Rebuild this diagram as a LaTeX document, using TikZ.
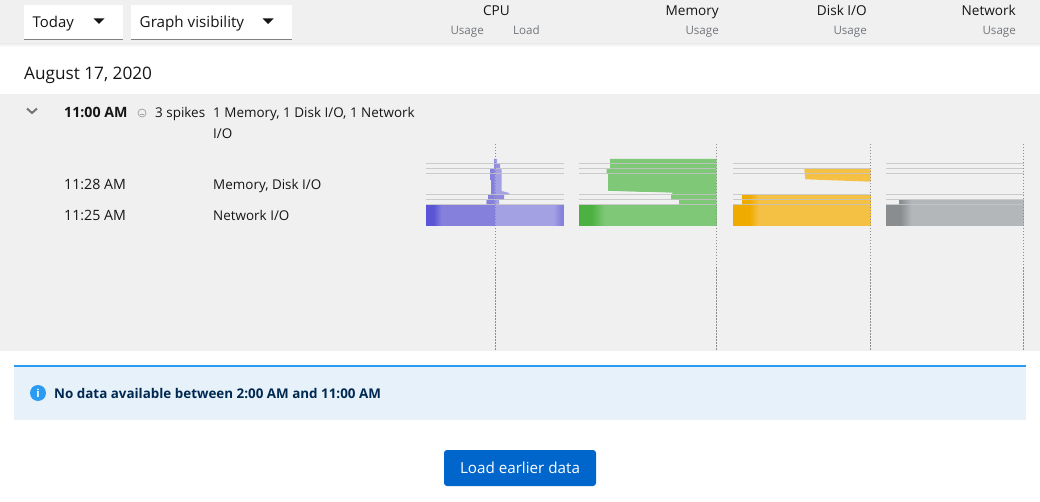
\documentclass[tikz,border=0pt]{standalone}
\usepackage{fontspec}
\setmainfont{Open Sans}
\definecolor{band}{HTML}{F0F0F0}
\definecolor{ink}{HTML}{151515}
\definecolor{dim}{HTML}{72767B}
\definecolor{gridc}{HTML}{C4C4C4}
\definecolor{vio}{HTML}{5A55D6}
\definecolor{vioM}{HTML}{8680DD}
\definecolor{vioL}{HTML}{A4A0E4}
\definecolor{grn}{HTML}{4CB140}
\definecolor{grnL}{HTML}{7EC877}
\definecolor{yel}{HTML}{F0AB00}
\definecolor{yelL}{HTML}{F5C144}
\definecolor{gry}{HTML}{8A8D90}
\definecolor{gryL}{HTML}{B4B7BA}
\definecolor{btn}{HTML}{0066CC}
\definecolor{alertbg}{HTML}{E7F1FA}
\definecolor{alertln}{HTML}{2B9AF3}
\definecolor{alerttx}{HTML}{002952}
\tikzset{x=1pt,y=-1pt,
 txt/.style={anchor=base west,inner sep=0,text=ink,font=\fontsize{13.45}{16}\selectfont},
 timec/.style={txt,font=\fontsize{14.2}{16}\selectfont},
 bold/.style={txt,font=\fontsize{14.2}{16}\selectfont\bfseries},
 head/.style={anchor=base east,inner sep=0,text=ink,font=\fontsize{13.6}{16}\selectfont},
 sub/.style={anchor=base east,inner sep=0,text=dim,font=\fontsize{11.6}{13}\selectfont},
 gridl/.style={gridc,line width=1pt,opacity=.85},
 marker/.style={draw=black!45,line width=1pt,dash pattern=on 1.5pt off 1.5pt},
 ddbox/.style={fill=white},
 ddline/.style={draw=black!50,line width=1pt},
 caret/.style={fill=ink}}
% left colour, right colour, x0, x1, y0, y1: the gradient is drawn as 1px slices from x0 to x1
\newcommand{\fadebar}[6]{%
  \pgfmathtruncatemacro{\fadeN}{#4-#3}%
  \foreach \fadei in {1,...,\fadeN}{%
    \pgfmathtruncatemacro{\fadep}{100-100*(\fadei-0.5)/\fadeN}%
    \fill[#1!\fadep!#2] ({#3+\fadei-1},#5) rectangle ({#3+\fadei+0.3},#6);
  }}
\begin{document}
\begin{tikzpicture}
\useasboundingbox (0,0) rectangle (1040,502);
\fill[white] (0,0) rectangle (1040,502);
% header band
\shade[top color=black!8,bottom color=white] (0,43) rectangle (1040,47);
\fill[band] (0,0) rectangle (1040,43.5);
\fill[band] (0,94.5) rectangle (1040,350.5);
% dropdowns
\fill[ddbox] (24,5) rectangle (123,39.5);
\draw[ddline] (24,39.5) -- (123,39.5);
\fill[ddbox] (131,5) rectangle (292,39.5);
\draw[ddline] (131,39.5) -- (292,39.5);
\fill[caret] (93.5,18.5) -- (104.5,18.5) -- (99,24) -- cycle;
\fill[caret] (262.5,18.5) -- (273.5,18.5) -- (268,24) -- cycle;
\node[txt,font=\fontsize{14.9}{16}\selectfont] (today) at (32.5,27.5) {Today};
\node[txt,font=\fontsize{15.2}{16}\selectfont] (gv) at (139.5,27.5) {Graph visibility};
% column heads
\node[head] (hcpu) at (510,15.5) {CPU};
\node[sub] (s1) at (484,34.5) {Usage};
\node[sub] (s2) at (540,34.5) {Load};
\node[head] (hmem) at (719,15.5) {Memory};
\node[sub] (s3) at (719,34.5) {Usage};
\node[head] (hdisk) at (867,15.5) {Disk I/O};
\node[sub] (s4) at (867,34.5) {Usage};
\node[head] (hnet) at (1016,15.5) {Network};
\node[sub] (s5) at (1016,34.5) {Usage};
% date
\node[txt,font=\fontsize{17.2}{20}\selectfont] (date) at (24,80) {August 17, 2020};
% row
\draw[dim,line width=2pt] (27,108.5) -- (32,113) -- (37,108.5);
\node[bold] (t1) at (64,118) {11:00 AM};
\draw[black!35,line width=.8pt] (142,113) circle (4);
\draw[black!35,line width=.8pt] (140,114.5) -- (144,114.5);
\node[txt] (sp) at (155,118) {3 spikes};
\node[txt] (m1) at (213,118) {1 Memory, 1 Disk I/O, 1 Network};
\node[txt] (m2) at (213,139) {I/O};
\node[timec] (t2) at (64,190) {11:28 AM};
\node[txt] (m3) at (213,190) {Memory, Disk I/O};
\node[timec] (t3) at (64,221) {11:25 AM};
\node[txt] (m4) at (213,221) {Network I/O};
% CPU chart
\fill[vioL] (494,159) -- (497,159) -- (497,164) -- (500,164) -- (500,169) -- (501.7,169) -- (501.7,191) -- (509,193) -- (509,195) -- (504,195) -- (504,200) -- (499,200) -- (499,205) -- (486.7,205) -- (486.7,200) -- (488,200) -- (488,195) -- (491,195) -- (491,180) -- (490,180) -- (490,169) -- (494,169) -- cycle;
\fill[vioM] (494,159) -- (494,169) -- (490,169) -- (490,180) -- (491,180) -- (491,195) -- (488,195) -- (488,200) -- (486.7,200) -- (486.7,205) -- (494.5,205) -- (494.5,159) -- cycle;
\fill[vioM!45!vioL] (494.5,164) rectangle (500,169);
\fill[vioM!70!vioL] (494.5,195) rectangle (504,200);
\fill[vioM] (426,205) rectangle (495,226);
\fill[vio] (426,205) rectangle (434,226);
\fadebar{vio}{vioM}{434}{442}{205}{226}
\fill[vioL] (495,205) rectangle (554,226);
\fadebar{vioL}{vioM}{554}{562}{205}{226}
\fill[vioM] (562,205) rectangle (564,226);
% Memory chart
\fill[grnL] (610,159) -- (716.5,159) -- (716.5,205) -- (679,205) -- (679,200) -- (671,200) -- (671,194.5) -- (672.7,192.7) -- (608,191) -- (608,174) -- (606.7,174) -- (606.7,169) -- (610,169) -- cycle;
\draw[white,opacity=.6,line width=.7pt] (608,191.5) -- (672.7,193.2);
\fill[grnL] (579,205) rectangle (717,226);
\fill[grn] (579,205) rectangle (592,226);
\fadebar{grn}{grnL}{592}{605}{205}{226}
% Disk chart
\fill[yelL] (804.3,169) -- (870.5,169) -- (870.5,181.7) -- (805.3,179.3) -- cycle;
\fill[yelL] (742,195) -- (870.5,195) -- (870.5,205) -- (742,205) -- cycle;
\fill[yel] (742,195) rectangle (750,205);
\fadebar{yel}{yelL}{750}{759}{195}{205}
\fill[yelL] (733,205) rectangle (871,226);
\fill[yel] (733,205) rectangle (750,226);
\fadebar{yel}{yelL}{750}{759}{205}{226}
% Network chart
\fill[gryL] (899,200) rectangle (1023.5,205);
\fill[gry] (899,200) rectangle (901,205);
\fadebar{gry}{gryL}{901}{912}{200}{205}
\fill[gryL] (886,205) rectangle (1024,226);
\fill[gry] (886,205) rectangle (901,226);
\fadebar{gry}{gryL}{901}{912}{205}{226}
% grid lines
\foreach \a/\b in {426/564,579/717,733/871,886/1024}
  \foreach \y in {163.5,168.5,173.5,194.5,199.5,204.5}
    \draw[gridl] (\a,\y) -- (\b,\y);
% markers
\foreach \x in {495.5,716.5,870.5,1023.5}
  \draw[marker] (\x,144) -- (\x,350.5);
% alert
\fill[alertbg] (14,365) rectangle (1026,420);
\fill[alertln] (14,365) rectangle (1026,367);
\fill[alertln] (38,393) circle (8);
\node[inner sep=0,text=white,font=\fontsize{11}{11}\selectfont\bfseries] (ic) at (38,393) {i};
\node[txt,font=\fontsize{13.4}{16}\selectfont\bfseries,text=alerttx] (al) at (54,398.5) {No data available between 2:00 AM and 11:00 AM};
% button
\fill[btn,rounded corners=3pt] (444,450) rectangle (596,486);
\node[anchor=base,inner sep=0,text=white,font=\fontsize{15.2}{16}\selectfont] (bt) at (520,473.5) {Load earlier data};
\end{tikzpicture}
\end{document}
